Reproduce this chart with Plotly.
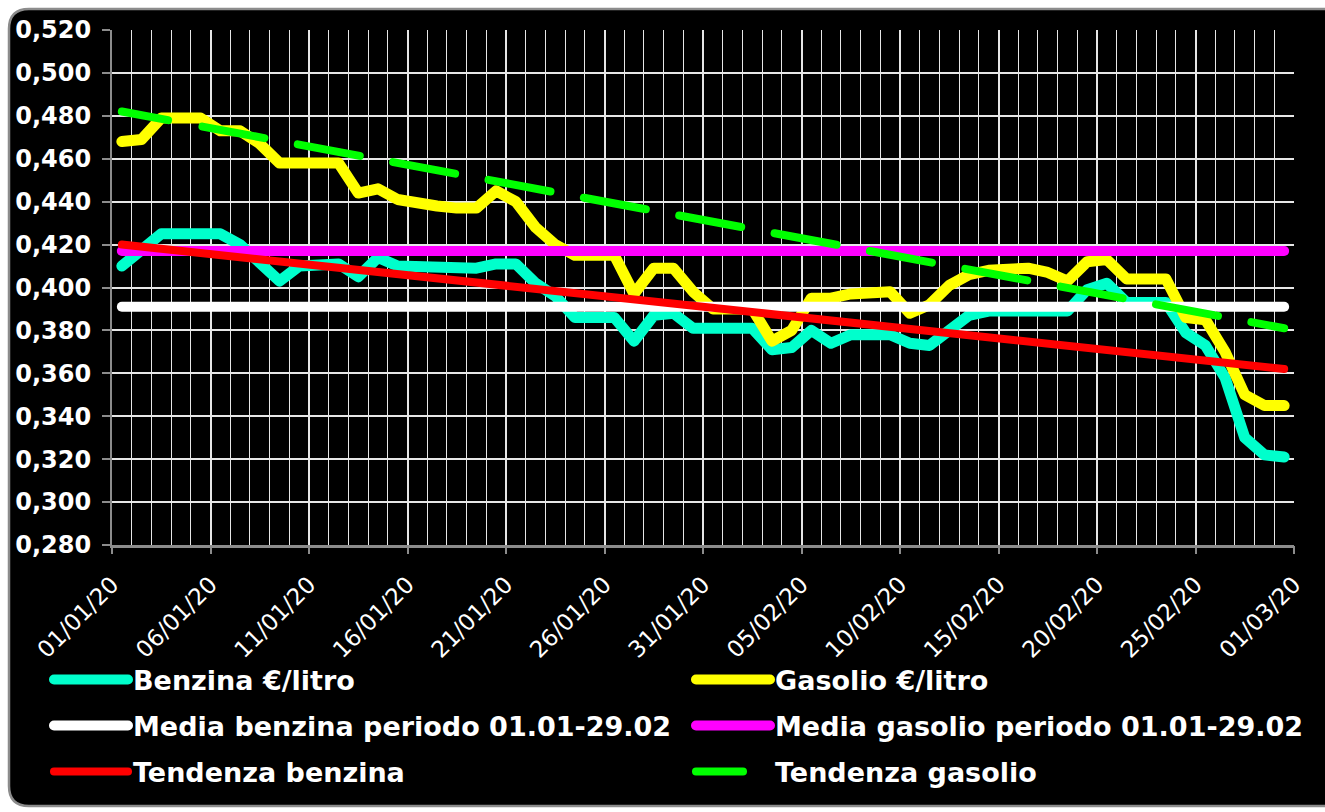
import plotly.graph_objects as go
import pandas as pd

# ---------------- data ----------------
days = pd.date_range("2020-01-01", "2020-02-29", freq="D")

benzina = [0.410, 0.417, 0.425, 0.425, 0.425, 0.425, 0.420, 0.411, 0.403, 0.410,
           0.411, 0.411, 0.405, 0.414, 0.410, 0.410, 0.409, 0.409, 0.409, 0.411,
           0.411, 0.402, 0.396, 0.386, 0.386, 0.386, 0.375, 0.387, 0.388, 0.381,
           0.381, 0.381, 0.381, 0.371, 0.372, 0.380, 0.374, 0.378, 0.378, 0.378,
           0.374, 0.373, 0.380, 0.387, 0.389, 0.389, 0.389, 0.389, 0.389, 0.399,
           0.402, 0.393, 0.393, 0.393, 0.379, 0.373, 0.358, 0.330, 0.322, 0.321]

gasolio = [0.468, 0.469, 0.479, 0.479, 0.479, 0.473, 0.473, 0.467, 0.458, 0.458,
           0.458, 0.458, 0.444, 0.446, 0.441, 0.439, 0.438, 0.437, 0.437, 0.445,
           0.440, 0.428, 0.420, 0.415, 0.415, 0.415, 0.397, 0.409, 0.409, 0.398,
           0.390, 0.390, 0.390, 0.375, 0.380, 0.395, 0.395, 0.397, 0.398, 0.398,
           0.388, 0.392, 0.401, 0.406, 0.408, 0.409, 0.409, 0.407, 0.403, 0.412,
           0.413, 0.404, 0.404, 0.404, 0.386, 0.385, 0.370, 0.350, 0.345, 0.345]

media_benzina = 0.391
media_gasolio = 0.417
tendenza_benzina = [0.420, 0.362]   # first day, last day
tendenza_gasolio = [0.482, 0.381]   # first day, last day

series_names = ["Benzina €/litro", "Gasolio €/litro",
                "Media benzina periodo 01.01-29.02", "Media gasolio periodo 01.01-29.02",
                "Tendenza benzina", "Tendenza gasolio"]

x_start, x_end = "2020-01-01", "2020-03-01"

# ---------------- figure ----------------
x = days + pd.Timedelta(hours=12)          # points sit in the middle of each day
x_ends = [x[0], x[-1]]

fig = go.Figure()
fig.add_trace(go.Scatter(x=x, y=benzina, name=series_names[0], mode="lines",
                         line=dict(color="#00FFCC", width=11), legend="legend"))
fig.add_trace(go.Scatter(x=x, y=gasolio, name=series_names[1], mode="lines",
                         line=dict(color="#FFFF00", width=11), legend="legend2"))
fig.add_trace(go.Scatter(x=x, y=[media_benzina] * len(x), name=series_names[2], mode="lines",
                         line=dict(color="#FFFFFF", width=10), legend="legend3"))
fig.add_trace(go.Scatter(x=x, y=[media_gasolio] * len(x), name=series_names[3], mode="lines",
                         line=dict(color="#FF00FF", width=10), legend="legend4"))
fig.add_trace(go.Scatter(x=x_ends, y=tendenza_benzina, name=series_names[4], mode="lines",
                         line=dict(color="#FF0000", width=8), legend="legend5"))
green_dash = "47px,35px," + ",".join(["63px,34px"] * 14)
fig.add_trace(go.Scatter(x=x_ends, y=tendenza_gasolio, name=series_names[5], mode="lines",
                         line=dict(color="#00FF00", width=8, dash=green_dash), legend="legend6"))
# empty trace so the labelled (5-day) overlay axis is certainly built
fig.add_trace(go.Scatter(x=[], y=[], xaxis="x2", yaxis="y", showlegend=False))

# plot area in pixels
L_PX, R_PX, T_PX, B_PX = 112, 1294, 30, 545
W, H = 1325, 812


def X(px):
    return (px - L_PX) / (R_PX - L_PX)


def Y(py):
    return (B_PX - py) / (B_PX - T_PX)


l, t, r, b, rad = 9, 9, 1345, 806, 20
frame = (f"M {X(l+rad)},{Y(t)} L {X(r-rad)},{Y(t)} Q {X(r)},{Y(t)} {X(r)},{Y(t+rad)} "
         f"L {X(r)},{Y(b-rad)} Q {X(r)},{Y(b)} {X(r-rad)},{Y(b)} "
         f"L {X(l+rad)},{Y(b)} Q {X(l)},{Y(b)} {X(l)},{Y(b-rad)} "
         f"L {X(l)},{Y(t+rad)} Q {X(l)},{Y(t)} {X(l+rad)},{Y(t)} Z")
border = (f"M {X(r)},{Y(t)} L {X(l+rad)},{Y(t)} Q {X(l)},{Y(t)} {X(l)},{Y(t+rad)} "
          f"L {X(l)},{Y(b-rad)} Q {X(l)},{Y(b)} {X(l+rad)},{Y(b)} L {X(r)},{Y(b)}")

legend_font = dict(family="DejaVu Sans", size=27, color="white", weight="bold")
leg_common = dict(orientation="v", xanchor="left", yanchor="middle",
                  font=legend_font, bgcolor="rgba(0,0,0,0)", itemwidth=74,
                  itemclick=False, itemdoubleclick=False)
col_x = [X(49), X(691)]
row_y = [Y(680), Y(726), Y(772)]
legends = {}
for k in range(6):
    key = "legend" if k == 0 else f"legend{k + 1}"
    legends[key] = dict(x=col_x[k % 2], y=row_y[k // 2], **leg_common)

grid_c = "#e6e6e6"
fig.update_layout(
    width=W, height=H,
    margin=dict(l=L_PX, r=W - R_PX, t=T_PX, b=H - B_PX, pad=0),
    paper_bgcolor="white",
    plot_bgcolor="black",
    separators=",.",
    showlegend=True,
    hovermode=False,
    shapes=[
        dict(type="path", xref="paper", yref="paper", path=frame,
             fillcolor="black", line=dict(width=0), layer="below"),
        dict(type="path", xref="paper", yref="paper", path=border,
             fillcolor="rgba(0,0,0,0)", line=dict(color="#8c8c8c", width=2.5), layer="below"),
    ],
    # daily grid axis (carries the data)
    xaxis=dict(
        type="date", range=[x_start, x_end],
        tick0=x_start, dtick=86400000,
        showticklabels=False, ticks="",
        showline=True, linecolor="#8c8c8c", linewidth=2.5,
        showgrid=True, gridcolor=grid_c, gridwidth=1.3,
        zeroline=False, fixedrange=True,
    ),
    # 5-day labelled axis
    xaxis2=dict(
        type="date", range=[x_start, x_end], overlaying="x", anchor="y", side="bottom",
        tick0=x_start, dtick=5 * 86400000,
        tickformat="%d/%m/%y", tickangle=-45,
        tickfont=dict(family="DejaVu Sans", size=23, color="white"),
        ticks="outside", ticklen=8, tickcolor="#8c8c8c", tickwidth=1.5,
        ticklabelstandoff=8,
        showline=False, showgrid=True, gridcolor=grid_c, gridwidth=2,
        zeroline=False, fixedrange=True,
    ),
    yaxis=dict(
        range=[0.28, 0.52], dtick=0.02, tick0=0.28, tickformat=".3f",
        tickfont=dict(family="DejaVu Sans", size=24, color="white", weight="bold"),
        ticks="outside", ticklen=8, tickcolor="#8c8c8c", tickwidth=1.5,
        ticklabelstandoff=6,
        showline=True, linecolor="#8c8c8c", linewidth=2,
        showgrid=True, gridcolor=grid_c, gridwidth=1.5,
        zeroline=False, fixedrange=True,
    ),
    **legends,
)

post = """
document.body.style.margin = '0';
document.body.style.overflow = 'hidden';
var gd = document.getElementById('{plot_id}');
function roundCaps(){
  gd.querySelectorAll('path.js-line, .legendlines path').forEach(function(p){
    p.style.strokeLinecap = 'round'; p.style.strokeLinejoin = 'round';
  });
}
roundCaps();
gd.on('plotly_afterplot', roundCaps);
"""

fig.write_html("out.html", post_script=post, config={"displayModeBar": False})
